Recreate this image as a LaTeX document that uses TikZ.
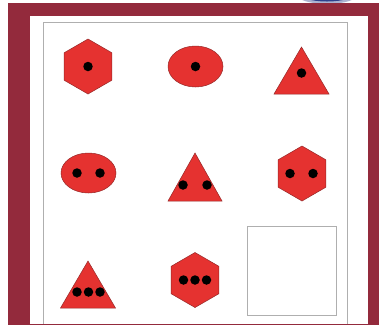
\documentclass[tikz,border=0pt]{standalone}
\definecolor{frame}{RGB}{147,42,60}
\definecolor{shapered}{RGB}{229,50,48}
\definecolor{edge}{RGB}{150,40,40}
\definecolor{navy}{RGB}{45,65,140}
\definecolor{greyline}{RGB}{175,175,175}
\tikzset{
  redshape/.style={fill=shapered, draw=edge, line width=0.5pt},
  blackdot/.style={circle, fill=black, inner sep=0pt, minimum size=9.5pt},
}
\newcommand{\hexat}[3]{% name, cx, cy
  \draw[redshape] (#2,#3-27.5) -- (#2-23.8,#3-13.75) -- (#2-23.8,#3+13.75) -- (#2,#3+27.5) -- (#2+23.8,#3+13.75) -- (#2+23.8,#3-13.75) -- cycle;
  \coordinate (#1) at (#2,#3);}
\newcommand{\triat}[5]{% name, apex x, apex y, base y, half width
  \draw[redshape] (#2,#3) -- (#2-#5,#4) -- (#2+#5,#4) -- cycle;
  \coordinate (#1) at (#2,#4);}
\begin{document}
\begin{tikzpicture}[x=1pt,y=-1pt]
\useasboundingbox (0,0) rectangle (379,325);
\begin{scope}
\clip (0,0) rectangle (379,325);
% blue ellipse at top right
\fill[navy!40] (327,-6) ellipse (31 and 10);
\fill[navy] (327,-7.5) ellipse (29 and 9);
% maroon frame
\fill[frame] (8,3) rectangle (379,325);
\fill[white] (30,16) rectangle (368,323.5);
\end{scope}
% inner grey rectangle
\begin{scope}
\clip (30,16) rectangle (368,323.5);
\draw[greyline, line width=0.6pt] (43,330) -- (43,22) -- (347,22) -- (347,330);
\end{scope}
% row 1
\hexat{h1}{88}{66.5}
\node[blackdot] at (h1) {};
\draw[redshape] (195.5,66.5) ellipse (27.5 and 20.5);
\node[blackdot] (e1) at (195.5,66.5) {};
\triat{t1}{301.5}{47}{94}{27.5}
\node[blackdot] (t1d) at (301.5,73) {};
% row 2
\draw[redshape] (88.5,173) ellipse (27.5 and 20);
\node[blackdot] (e2a) at (77,173) {};
\node[blackdot] (e2b) at (100,173) {};
\triat{t2}{195}{153}{201}{27}
\node[blackdot] (t2a) at (183,185) {};
\node[blackdot] (t2b) at (207,185) {};
\hexat{h2}{302}{173.5}
\node[blackdot] (h2a) at (290,173.5) {};
\node[blackdot] (h2b) at (313,173.5) {};
% row 3
\triat{t3}{88}{261}{308}{27.5}
\node[blackdot] (t3a) at (77,292) {};
\node[blackdot] (t3b) at (88.5,292) {};
\node[blackdot] (t3c) at (100,292) {};
\hexat{h3}{195}{280}
\node[blackdot] (h3a) at (183.5,280) {};
\node[blackdot] (h3b) at (195,280) {};
\node[blackdot] (h3c) at (206.5,280) {};
% empty answer box
\draw[greyline, line width=0.7pt] (247,226) rectangle (336,315);
\end{tikzpicture}
\end{document}
